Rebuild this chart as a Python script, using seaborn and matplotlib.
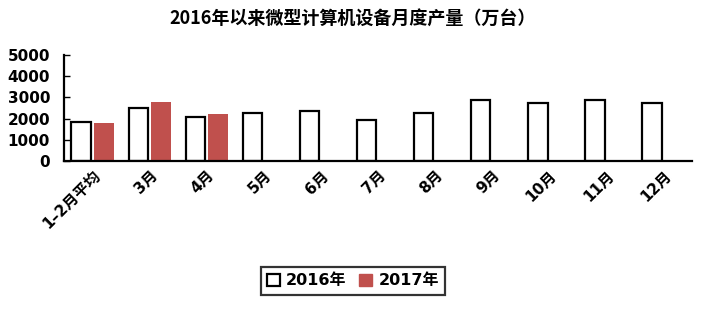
import matplotlib
matplotlib.use("Agg")
import matplotlib.pyplot as plt
from matplotlib.patches import Patch
import seaborn as sns
import pandas as pd

categories = ["1–2月平均", "3月", "4月", "5月", "6月", "7月", "8月", "9月", "10月", "11月", "12月"]
values_2016 = [1840, 2480, 2060, 2250, 2340, 1940, 2280, 2890, 2750, 2890, 2750]
categories_2017 = ["1–2月平均", "3月", "4月"]
values_2017 = [1790, 2800, 2230]
series_names = ["2016年", "2017年"]
yticks = [0, 1000, 2000, 3000, 4000, 5000]

sns.set_theme(style="white")
plt.rcParams["font.family"] = ["DejaVu Sans", "Noto Sans CJK SC"]
plt.rcParams["font.weight"] = "bold"
for k in ["text.color", "xtick.color", "ytick.color", "axes.labelcolor"]:
    plt.rcParams[k] = "black"

df = pd.DataFrame({
    "cat": categories + categories_2017,
    "val": values_2016 + values_2017,
    "year": [series_names[0]] * len(values_2016) + [series_names[1]] * len(values_2017),
})

fig = plt.figure(figsize=(7.06, 3.09), dpi=100)
ax = fig.add_axes([64 / 706, 148 / 309, 628 / 706, (254 - 148) / 309])

sns.barplot(data=df, x="cat", y="val", hue="year", order=categories,
            hue_order=series_names, palette={"2016年": "white", "2017年": "#C0504D"},
            gap=0.15, width=0.8, legend=False, ax=ax, errorbar=None, saturation=1)

for bar in ax.containers[0]:
    bar.set_edgecolor("black")
    bar.set_linewidth(1.6)
for bar in ax.containers[1]:
    bar.set_edgecolor("#C0504D")
    bar.set_linewidth(0)

ax.set_xlim(-0.5, len(categories) - 0.5)
ax.set_ylim(0, 5000)
ax.set_yticks(yticks)
ax.set_yticklabels([str(v) for v in yticks], fontsize=11, fontweight="bold")
ax.tick_params(axis="y", direction="in", length=4, width=1, color="black", left=True, pad=10)
ax.tick_params(axis="x", length=0, pad=5)
ax.set_xticks(range(len(categories)))
ax.set_xticklabels(categories, rotation=45, ha="right", rotation_mode="anchor",
                   fontsize=11, fontweight="bold")
ax.set_xlabel("")
ax.set_ylabel("")
for s in ["top", "right"]:
    ax.spines[s].set_visible(False)
for s in ["left", "bottom"]:
    ax.spines[s].set_color("black")
    ax.spines[s].set_linewidth(1.6)

fig.text(0.5, 0.94, "2016年以来微型计算机设备月度产量（万台）", ha="center", va="center",
         fontsize=13, fontweight="bold", color="black",
         family=["Noto Sans CJK SC", "DejaVu Sans"])

handles = [Patch(facecolor="white", edgecolor="black", linewidth=1.6, label=series_names[0]),
           Patch(facecolor="#C0504D", edgecolor="#C0504D", label=series_names[1])]
leg = fig.legend(handles=handles, loc="center", bbox_to_anchor=(353 / 706, 1 - 281 / 309),
                 ncol=2, frameon=True, handlelength=0.8, handleheight=0.8,
                 handletextpad=0.4, columnspacing=0.8, borderpad=0.4, fancybox=False,
                 prop={"weight": "bold", "size": 11.5})
leg.get_frame().set_edgecolor("black")
leg.get_frame().set_linewidth(1.6)

fig.savefig("out.png", dpi=100)
